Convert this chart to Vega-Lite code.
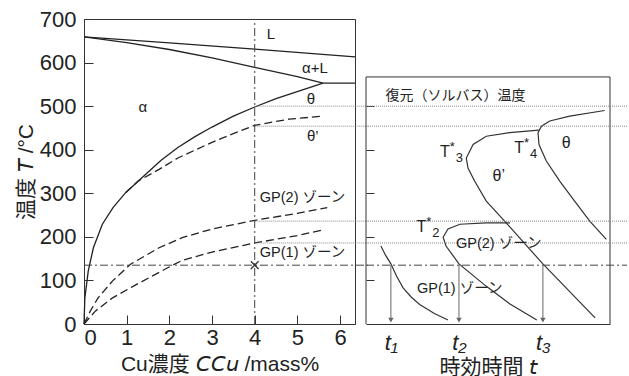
{
  "$schema": "https://vega.github.io/schema/vega-lite/v6.json",
  "padding": {"left": 14, "top": 7, "right": 0, "bottom": 0},
  "spacing": 11,
  "bounds": "flush",
  "background": "white",
  "config": {
    "font": "Liberation Sans, Noto Sans CJK JP, sans-serif",
    "view": {"stroke": "#333", "strokeWidth": 1},
    "axis": {
      "grid": false,
      "labelColor": "#222",
      "titleColor": "#222",
      "domainColor": "#333",
      "tickColor": "#333",
      "labelFontSize": 22,
      "titleFontSize": 21,
      "titleFontWeight": "normal"
    }
  },
  "datasets": {
    "solid": [
      {"curve": "liq", "i": 0, "c": 0, "T": 659},
      {"curve": "liq", "i": 1, "c": 2, "T": 645},
      {"curve": "liq", "i": 2, "c": 4, "T": 631},
      {"curve": "liq", "i": 3, "c": 6.35, "T": 613},
      {"curve": "sol", "i": 0, "c": 0, "T": 659},
      {"curve": "sol", "i": 1, "c": 1, "T": 646},
      {"curve": "sol", "i": 2, "c": 2, "T": 630},
      {"curve": "sol", "i": 3, "c": 3, "T": 611},
      {"curve": "sol", "i": 4, "c": 4, "T": 589},
      {"curve": "sol", "i": 5, "c": 5, "T": 568},
      {"curve": "sol", "i": 6, "c": 5.6, "T": 553},
      {"curve": "eut", "i": 0, "c": 5.6, "T": 553},
      {"curve": "eut", "i": 1, "c": 6.35, "T": 553},
      {"curve": "solvus", "i": 0, "c": 0, "T": 0},
      {"curve": "solvus", "i": 1, "c": 0.02, "T": 60},
      {"curve": "solvus", "i": 2, "c": 0.1, "T": 122},
      {"curve": "solvus", "i": 3, "c": 0.22, "T": 175},
      {"curve": "solvus", "i": 4, "c": 0.43, "T": 229},
      {"curve": "solvus", "i": 5, "c": 0.68, "T": 267},
      {"curve": "solvus", "i": 6, "c": 0.98, "T": 302},
      {"curve": "solvus", "i": 7, "c": 1.46, "T": 345},
      {"curve": "solvus", "i": 8, "c": 1.8, "T": 375},
      {"curve": "solvus", "i": 9, "c": 2.2, "T": 405},
      {"curve": "solvus", "i": 10, "c": 2.6, "T": 430},
      {"curve": "solvus", "i": 11, "c": 3, "T": 452},
      {"curve": "solvus", "i": 12, "c": 3.5, "T": 477},
      {"curve": "solvus", "i": 13, "c": 4, "T": 498},
      {"curve": "solvus", "i": 14, "c": 4.5, "T": 517},
      {"curve": "solvus", "i": 15, "c": 5.05, "T": 535},
      {"curve": "solvus", "i": 16, "c": 5.6, "T": 553}
    ],
    "dashed": [
      {"curve": "thp", "i": 0, "c": 0.98, "T": 302},
      {"curve": "thp", "i": 1, "c": 1.27, "T": 328},
      {"curve": "thp", "i": 2, "c": 1.76, "T": 355},
      {"curve": "thp", "i": 3, "c": 2.2, "T": 381},
      {"curve": "thp", "i": 4, "c": 3, "T": 417},
      {"curve": "thp", "i": 5, "c": 3.5, "T": 437},
      {"curve": "thp", "i": 6, "c": 4, "T": 456},
      {"curve": "thp", "i": 7, "c": 4.8, "T": 470},
      {"curve": "thp", "i": 8, "c": 5.6, "T": 477},
      {"curve": "gp2", "i": 0, "c": 0, "T": 0},
      {"curve": "gp2", "i": 1, "c": 0.15, "T": 30},
      {"curve": "gp2", "i": 2, "c": 0.33, "T": 60},
      {"curve": "gp2", "i": 3, "c": 0.67, "T": 99},
      {"curve": "gp2", "i": 4, "c": 1.09, "T": 137},
      {"curve": "gp2", "i": 5, "c": 1.76, "T": 175},
      {"curve": "gp2", "i": 6, "c": 2.3, "T": 198},
      {"curve": "gp2", "i": 7, "c": 3, "T": 218},
      {"curve": "gp2", "i": 8, "c": 4, "T": 238},
      {"curve": "gp2", "i": 9, "c": 5, "T": 254},
      {"curve": "gp2", "i": 10, "c": 5.7, "T": 267},
      {"curve": "gp1", "i": 0, "c": 0, "T": 0},
      {"curve": "gp1", "i": 1, "c": 0.27, "T": 30},
      {"curve": "gp1", "i": 2, "c": 0.67, "T": 60},
      {"curve": "gp1", "i": 3, "c": 1.16, "T": 87},
      {"curve": "gp1", "i": 4, "c": 1.96, "T": 129},
      {"curve": "gp1", "i": 5, "c": 2.3, "T": 146},
      {"curve": "gp1", "i": 6, "c": 3, "T": 165},
      {"curve": "gp1", "i": 7, "c": 4, "T": 186},
      {"curve": "gp1", "i": 8, "c": 5, "T": 203},
      {"curve": "gp1", "i": 9, "c": 5.6, "T": 216}
    ],
    "leftDotted": [
      {"c": 4, "c2": 6.65, "T": 500},
      {"c": 4, "c2": 6.65, "T": 454},
      {"c": 4, "c2": 6.65, "T": 236},
      {"c": 4, "c2": 6.65, "T": 186}
    ],
    "leftDashDotH": [{"c": 0, "c2": 6.65, "T": 135}],
    "leftDashDotV": [{"c": 4, "T": 0, "T2": 700}],
    "cross": [{"c": 4, "T": 135}],
    "leftLabels": [
      {"c": 4.38, "T": 665, "label": "L"},
      {"c": 5.41, "T": 587, "label": "α+L"},
      {"c": 1.38, "T": 498, "label": "α"},
      {"c": 5.32, "T": 516, "label": "θ"},
      {"c": 5.36, "T": 431, "label": "θ’"}
    ],
    "leftGP": [
      {"c": 4.12, "T": 289, "label": "GP(2) ゾーン"},
      {"c": 4.12, "T": 163, "label": "GP(1) ゾーン"}
    ],
    "tcurves": [
      {"curve": "gp1", "i": 0, "t": 0.61, "T": 179},
      {"curve": "gp1", "i": 1, "t": 0.8, "T": 158},
      {"curve": "gp1", "i": 2, "t": 1.02, "T": 138},
      {"curve": "gp1", "i": 3, "t": 1.25, "T": 110},
      {"curve": "gp1", "i": 4, "t": 1.52, "T": 83},
      {"curve": "gp1", "i": 5, "t": 1.85, "T": 62},
      {"curve": "gp1", "i": 6, "t": 2.2, "T": 45},
      {"curve": "gp1", "i": 7, "t": 2.8, "T": 24},
      {"curve": "gp1", "i": 8, "t": 3.36, "T": 9},
      {"curve": "gp2", "i": 0, "t": 5.9, "T": 232},
      {"curve": "gp2", "i": 1, "t": 4.92, "T": 232},
      {"curve": "gp2", "i": 2, "t": 3.85, "T": 229},
      {"curve": "gp2", "i": 3, "t": 3.36, "T": 218},
      {"curve": "gp2", "i": 4, "t": 3.16, "T": 199},
      {"curve": "gp2", "i": 5, "t": 3.28, "T": 179},
      {"curve": "gp2", "i": 6, "t": 3.81, "T": 138},
      {"curve": "gp2", "i": 7, "t": 4.92, "T": 87},
      {"curve": "gp2", "i": 8, "t": 5.9, "T": 46},
      {"curve": "gp2", "i": 9, "t": 7.0, "T": 9},
      {"curve": "thp", "i": 0, "t": 7.08, "T": 445},
      {"curve": "thp", "i": 1, "t": 5.89, "T": 439},
      {"curve": "thp", "i": 2, "t": 4.93, "T": 431},
      {"curve": "thp", "i": 3, "t": 4.39, "T": 412},
      {"curve": "thp", "i": 4, "t": 4.11, "T": 381},
      {"curve": "thp", "i": 5, "t": 4.18, "T": 358},
      {"curve": "thp", "i": 6, "t": 4.45, "T": 328},
      {"curve": "thp", "i": 7, "t": 4.93, "T": 282},
      {"curve": "thp", "i": 8, "t": 5.68, "T": 236},
      {"curve": "thp", "i": 9, "t": 7.25, "T": 138},
      {"curve": "thp", "i": 10, "t": 9.39, "T": 14},
      {"curve": "th", "i": 0, "t": 9.78, "T": 490},
      {"curve": "th", "i": 1, "t": 8.35, "T": 477},
      {"curve": "th", "i": 2, "t": 7.53, "T": 466},
      {"curve": "th", "i": 3, "t": 7.19, "T": 454},
      {"curve": "th", "i": 4, "t": 7.05, "T": 439},
      {"curve": "th", "i": 5, "t": 7.09, "T": 412},
      {"curve": "th", "i": 6, "t": 7.39, "T": 374},
      {"curve": "th", "i": 7, "t": 7.94, "T": 328},
      {"curve": "th", "i": 8, "t": 8.55, "T": 282},
      {"curve": "th", "i": 9, "t": 9.17, "T": 236},
      {"curve": "th", "i": 10, "t": 9.85, "T": 194}
    ],
    "frameV": [
      {"t": 0, "T": 0, "T2": 567},
      {"t": 10, "T": 0, "T2": 567}
    ],
    "frameH": [{"t": 0, "t2": 10, "T": 567}],
    "rightDotted": [
      {"t": 0, "t2": 10.7, "T": 500},
      {"t": 0, "t2": 10.7, "T": 454},
      {"t": 0, "t2": 10.7, "T": 236},
      {"t": 0, "t2": 10.7, "T": 186}
    ],
    "rightDashDot": [{"t": 0, "t2": 10.7, "T": 135}],
    "arrows": [
      {"t": 1.02, "T": 135, "T2": 8},
      {"t": 3.81, "T": 135, "T2": 8},
      {"t": 7.25, "T": 135, "T2": 8}
    ],
    "arrowHeads": [
      {"t": 1.02, "T": 9},
      {"t": 3.81, "T": 9},
      {"t": 7.25, "T": 9}
    ],
    "rightLabels": [
      {"t": 3.67, "T": 523, "label": "復元（ソルバス）温度"}
    ],
    "rightGP": [
      {"t": 5.44, "T": 183, "label": "GP(2) ゾーン"},
      {"t": 3.84, "T": 80, "label": "GP(1) ゾーン"}
    ],
    "rightSymbols": [
      {"t": 8.21, "T": 416, "label": "θ"},
      {"t": 5.44, "T": 339, "label": "θ’"}
    ],
    "tStars": [
      {"t": 3.43, "T": 394, "sub": "3"},
      {"t": 6.48, "T": 404, "sub": "4"},
      {"t": 2.47, "T": 223, "sub": "2"}
    ]
  },
  "hconcat": [
    {
      "width": 271,
      "height": 305,
      "layer": [
        {
          "data": {"name": "solid"},
          "mark": {"type": "line", "color": "#222", "strokeWidth": 1.3},
          "encoding": {
            "x": {"field": "c", "type": "quantitative", "scale": {"domain": [0, 6.35], "nice": false, "zero": false},
              "axis": {"values": [0, 1, 2, 3, 4, 5, 6], "tickSize": -9, "labelPadding": 12, "title": "Cu濃度  𝘊𝘊𝘶 /mass%", "titlePadding": 5}},
            "y": {"field": "T", "type": "quantitative", "scale": {"domain": [0, 700], "nice": false},
              "axis": {"values": [0, 100, 200, 300, 400, 500, 600, 700], "tickSize": -9, "labelPadding": 17, "title": "温度  𝘛 /°C", "titlePadding": 3}},
            "detail": {"field": "curve"},
            "order": {"field": "i"}
          }
        },
        {
          "data": {"name": "dashed"},
          "mark": {"type": "line", "color": "#222", "strokeWidth": 1.3, "strokeDash": [8, 4]},
          "encoding": {
            "x": {"field": "c", "type": "quantitative"},
            "y": {"field": "T", "type": "quantitative"},
            "detail": {"field": "curve"},
            "order": {"field": "i"}
          }
        },
        {
          "data": {"name": "leftDotted"},
          "mark": {"type": "rule", "color": "#888", "strokeWidth": 1, "strokeDash": [1, 1], "clip": false},
          "encoding": {
            "x": {"field": "c", "type": "quantitative"},
            "x2": {"field": "c2"},
            "y": {"field": "T", "type": "quantitative"}
          }
        },
        {
          "data": {"name": "leftDashDotH"},
          "mark": {"type": "rule", "color": "#444", "strokeWidth": 1, "strokeDash": [8, 3, 2, 3], "clip": false},
          "encoding": {
            "x": {"field": "c", "type": "quantitative"},
            "x2": {"field": "c2"},
            "y": {"field": "T", "type": "quantitative"}
          }
        },
        {
          "data": {"name": "leftDashDotV"},
          "mark": {"type": "rule", "color": "#444", "strokeWidth": 1, "strokeDash": [8, 3, 2, 3]},
          "encoding": {
            "x": {"field": "c", "type": "quantitative"},
            "y": {"field": "T", "type": "quantitative"},
            "y2": {"field": "T2"}
          }
        },
        {
          "data": {"name": "cross"},
          "mark": {"type": "point", "shape": "M-1,-1L1,1M-1,1L1,-1", "filled": false, "color": "#333", "strokeWidth": 1.3, "size": 60, "opacity": 1},
          "encoding": {
            "x": {"field": "c", "type": "quantitative"},
            "y": {"field": "T", "type": "quantitative"}
          }
        },
        {
          "data": {"name": "leftLabels"},
          "mark": {"type": "text", "fontSize": 15, "color": "#222", "align": "center", "baseline": "middle"},
          "encoding": {
            "x": {"field": "c", "type": "quantitative"},
            "y": {"field": "T", "type": "quantitative"},
            "text": {"field": "label"}
          }
        },
        {
          "data": {"name": "leftGP"},
          "mark": {"type": "text", "fontSize": 14.5, "color": "#222", "align": "left", "baseline": "middle"},
          "encoding": {
            "x": {"field": "c", "type": "quantitative"},
            "y": {"field": "T", "type": "quantitative"},
            "text": {"field": "label"}
          }
        }
      ]
    },
    {
      "width": 244,
      "height": 305,
      "view": {"stroke": null},
      "layer": [
        {
          "data": {"name": "tcurves"},
          "mark": {"type": "line", "color": "#333", "strokeWidth": 1.2},
          "encoding": {
            "x": {"field": "t", "type": "quantitative", "scale": {"domain": [0, 10], "nice": false, "zero": false},
              "axis": {"values": [1.02, 3.81, 7.25], "labelExpr": "datum.value < 2 ? 't₁' : datum.value < 5 ? 't₂' : 't₃'", "ticks": false, "labelPadding": 8, "labelFontStyle": "italic", "title": "時効時間  𝘵", "titlePadding": 3}},
            "y": {"field": "T", "type": "quantitative", "scale": {"domain": [0, 700], "nice": false},
              "axis": {"values": [100, 200, 300, 400, 500], "labels": false, "domain": false, "tickSize": -8, "title": null}},
            "detail": {"field": "curve"},
            "order": {"field": "i"}
          }
        },
        {
          "data": {"name": "frameV"},
          "mark": {"type": "rule", "color": "#333", "strokeWidth": 1},
          "encoding": {
            "x": {"field": "t", "type": "quantitative"},
            "y": {"field": "T", "type": "quantitative"},
            "y2": {"field": "T2"}
          }
        },
        {
          "data": {"name": "frameH"},
          "mark": {"type": "rule", "color": "#333", "strokeWidth": 1},
          "encoding": {
            "x": {"field": "t", "type": "quantitative"},
            "x2": {"field": "t2"},
            "y": {"field": "T", "type": "quantitative"}
          }
        },
        {
          "data": {"name": "rightDotted"},
          "mark": {"type": "rule", "color": "#888", "strokeWidth": 1, "strokeDash": [1, 1], "clip": false},
          "encoding": {
            "x": {"field": "t", "type": "quantitative"},
            "x2": {"field": "t2"},
            "y": {"field": "T", "type": "quantitative"}
          }
        },
        {
          "data": {"name": "rightDashDot"},
          "mark": {"type": "rule", "color": "#444", "strokeWidth": 1, "strokeDash": [8, 3, 2, 3], "clip": false},
          "encoding": {
            "x": {"field": "t", "type": "quantitative"},
            "x2": {"field": "t2"},
            "y": {"field": "T", "type": "quantitative"}
          }
        },
        {
          "data": {"name": "arrows"},
          "mark": {"type": "rule", "color": "#666", "strokeWidth": 1},
          "encoding": {
            "x": {"field": "t", "type": "quantitative"},
            "y": {"field": "T", "type": "quantitative"},
            "y2": {"field": "T2"}
          }
        },
        {
          "data": {"name": "arrowHeads"},
          "mark": {"type": "point", "shape": "triangle-down", "filled": true, "color": "#666", "size": 30, "opacity": 1},
          "encoding": {
            "x": {"field": "t", "type": "quantitative"},
            "y": {"field": "T", "type": "quantitative"}
          }
        },
        {
          "data": {"name": "rightLabels"},
          "mark": {"type": "text", "fontSize": 14, "color": "#222", "align": "center", "baseline": "middle"},
          "encoding": {
            "x": {"field": "t", "type": "quantitative"},
            "y": {"field": "T", "type": "quantitative"},
            "text": {"field": "label"}
          }
        },
        {
          "data": {"name": "rightGP"},
          "mark": {"type": "text", "fontSize": 14.5, "color": "#222", "align": "center", "baseline": "middle"},
          "encoding": {
            "x": {"field": "t", "type": "quantitative"},
            "y": {"field": "T", "type": "quantitative"},
            "text": {"field": "label"}
          }
        },
        {
          "data": {"name": "rightSymbols"},
          "mark": {"type": "text", "fontSize": 16, "color": "#222", "align": "center", "baseline": "middle"},
          "encoding": {
            "x": {"field": "t", "type": "quantitative"},
            "y": {"field": "T", "type": "quantitative"},
            "text": {"field": "label"}
          }
        },
        {
          "data": {"name": "tStars"},
          "mark": {"type": "text", "fontSize": 16, "color": "#222", "align": "right", "baseline": "middle", "text": "T"},
          "encoding": {
            "x": {"field": "t", "type": "quantitative"},
            "y": {"field": "T", "type": "quantitative"}
          }
        },
        {
          "data": {"name": "tStars"},
          "mark": {"type": "text", "fontSize": 13, "color": "#222", "align": "left", "baseline": "middle", "dx": 0, "dy": -5, "text": "*"},
          "encoding": {
            "x": {"field": "t", "type": "quantitative"},
            "y": {"field": "T", "type": "quantitative"}
          }
        },
        {
          "data": {"name": "tStars"},
          "mark": {"type": "text", "fontSize": 13, "color": "#222", "align": "left", "baseline": "middle", "dx": 6, "dy": 6},
          "encoding": {
            "x": {"field": "t", "type": "quantitative"},
            "y": {"field": "T", "type": "quantitative"},
            "text": {"field": "sub"}
          }
        }
      ]
    }
  ]
}
